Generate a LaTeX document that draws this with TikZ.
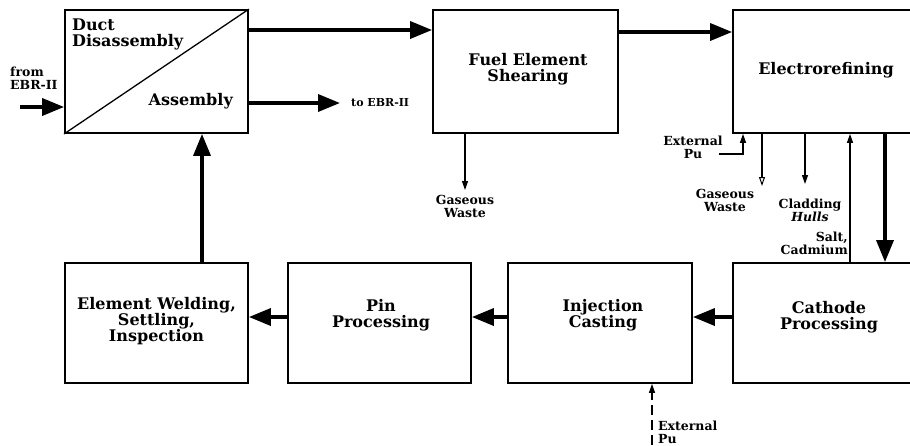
\documentclass[tikz,border=0pt]{standalone}
\usepackage{fontspec}
\setmainfont{DejaVu Serif}
\usetikzlibrary{arrows.meta,calc}
\begin{document}
\begin{tikzpicture}[x=1pt,y=-1pt,
  proc/.style={draw,line width=1.8pt,inner sep=0pt,minimum width=#1},
  lab/.style={font=\bfseries\fontsize{16}{16}\selectfont,align=center,inner sep=0pt},
  small/.style={font=\bfseries\fontsize{12.5}{13}\selectfont,align=center,inner sep=0pt},
  flow/.style={line width=3.5pt,-{Triangle[length=22pt,width=17pt]}},
  thinflow/.style={line width=1.2pt,-{Triangle[length=9pt,width=6pt]}},
  openflow/.style={line width=1.2pt,-{Triangle[open,length=9pt,width=6pt,line width=1pt]}}]
\useasboundingbox (0,0) rectangle (910,445);
\clip (0,0) rectangle (910,445);
% boxes (top row: y 10..133, bottom row: y 263..383)
\node[proc=183pt,minimum height=123pt] (duct) at (156.5,71.5) {};
\node[proc=185pt,minimum height=123pt] (fuel) at (525.5,71.5) {};
\node[proc=182pt,minimum height=123pt] (elec) at (824,71.5) {};
\node[proc=183pt,minimum height=120pt] (weld) at (156.5,323) {};
\node[proc=183pt,minimum height=120pt] (pin) at (379.5,323) {};
\node[proc=184pt,minimum height=120pt] (inj) at (600,323) {};
\node[proc=182pt,minimum height=120pt] (cath) at (824,323) {};
\draw[line width=1.3pt] (duct.south west) -- (duct.north east);
% box texts
\node[lab,align=left,anchor=north west] (ductlab) at (72,19) {Duct\\Disassembly};
\node[lab,anchor=east] (asmlab) at (233,101) {Assembly};
\node[lab] (fuellab) at (528,69) {Fuel Element\\Shearing};
\node[lab] (eleclab) at (826,70) {Electrorefining};
\node[lab] (weldlab) at (156.5,321) {Element Welding,\\Settling,\\Inspection};
\node[lab] (pinlab) at (381,315) {Pin\\Processing};
\node[lab] (injlab) at (603,315) {Injection\\Casting};
\node[lab] (cathlab) at (829,317) {Cathode\\Processing};
% main flow
\coordinate (fromE) at (20,107);
\node[small,align=left,anchor=west] (fromlab) at (10,78) {from\\EBR-II};
\draw[flow] (fromE) -- (fromE -| duct.west);
\coordinate (r1) at (0,30);
\draw[flow] (duct.east |- r1) -- (fuel.west |- r1);
\coordinate (r2) at (0,32);
\draw[flow] (fuel.east |- r2) -- (elec.west |- r2);
\coordinate (toE) at (340,103);
\draw[flow] (duct.east |- toE) -- (toE);
\node[small,font=\bfseries\fontsize{11}{12}\selectfont,anchor=west] (tolab) at (351,103) {to EBR-II};
\coordinate (c1) at (885,0);
\draw[flow] (elec.south -| c1) -- (cath.north -| c1);
\coordinate (r3) at (0,317);
\draw[flow] (cath.west |- r3) -- (inj.east |- r3);
\draw[flow] (inj.west |- r3) -- (pin.east |- r3);
\draw[flow] (pin.west |- r3) -- (weld.east |- r3);
\coordinate (c2) at (202,0);
\draw[flow] (weld.north -| c2) -- (duct.south -| c2);
% side streams
\coordinate (fw) at (465,190);
\draw[thinflow] (fuel.south -| fw) -- (fw);
\node[small] (fwlab) at (465,206) {Gaseous\\Waste};
\coordinate (epu) at (719,154);
\coordinate (epc) at (743,154);
\draw[thinflow] (epu) -- (epc) -- (elec.south -| epc);
\node[small] (epulab) at (693,147) {External\\Pu};
\coordinate (gw) at (762,186);
\draw[openflow] (elec.south -| gw) -- (gw);
\node[small] (gwlab) at (725,200) {Gaseous\\Waste};
\coordinate (ch) at (805,184);
\draw[thinflow] (elec.south -| ch) -- (ch);
\node[small] (chlab) at (810,210) {Cladding\\\textit{Hulls}};
\coordinate (sc) at (850,0);
\draw[thinflow] (cath.north -| sc) -- (elec.south -| sc);
\node[small,align=right,anchor=east] (sclab) at (848,243) {Salt,\\Cadmium};
\coordinate (xp) at (652,445);
\draw[thinflow,dash pattern=on 10pt off 5pt] (xp) -- (inj.south -| xp);
\node[small,align=left,anchor=north west] (xplab) at (658,421) {External\\Pu};
\end{tikzpicture}
\end{document}
